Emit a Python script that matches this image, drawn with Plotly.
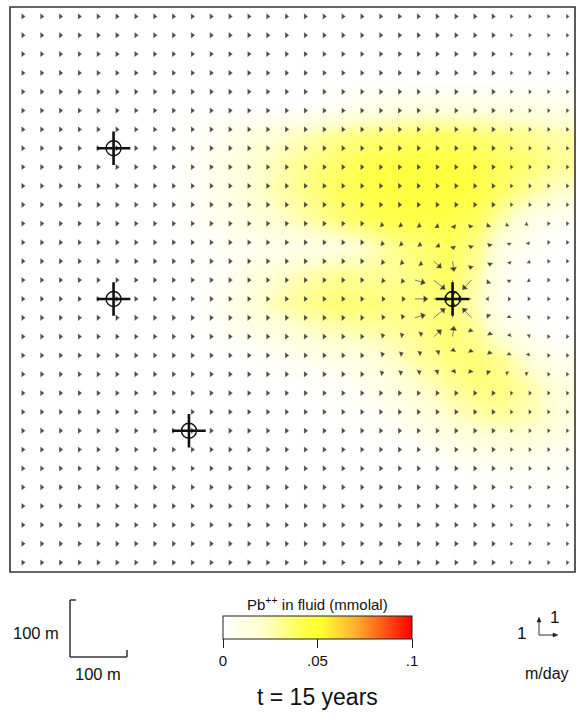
import numpy as np
import plotly.graph_objects as go

W, H = 576, 717
FONT = "Liberation Sans, Arial, sans-serif"

# model domain (m) and grid of velocity nodes
DOMAIN = 1000
NCELL = 30

# background velocity (m/day) per grid column, left -> right
BG_VX = [0.2] * 25 + [0.17, 0.13, 0.11, 0.1, 0.1]

# velocity near the pumping well: rows dy=+4..-4 (top->bottom), cols dx=-4..+4
PUMP_COL, PUMP_ROW = 23, 15
WIN_VX = [
    [0.27, 0.27, 0.25, 0.20, 0.08, -0.06, -0.12, -0.12, -0.08],
    [0.30, 0.30, 0.29, 0.26, 0.04, -0.04, -0.04, 0.00, 0.02],
    [0.32, 0.34, 0.35, 0.34, 0.06, -0.05, -0.02, 0.03, 0.06],
    [0.34, 0.38, 0.46, 0.55, 0.04, -0.42, -0.12, 0.00, 0.05],
    [0.35, 0.42, 0.60, 0.75, 0.00, -0.70, -0.15, 0.00, 0.05],
    [0.34, 0.38, 0.46, 0.55, 0.04, -0.42, -0.12, 0.00, 0.05],
    [0.32, 0.34, 0.35, 0.34, 0.06, -0.05, -0.02, 0.03, 0.06],
    [0.30, 0.30, 0.29, 0.26, 0.04, -0.04, -0.04, 0.00, 0.02],
    [0.27, 0.27, 0.25, 0.20, 0.08, -0.06, -0.12, -0.12, -0.08],
]
WIN_VY = [
    [-0.08, -0.10, -0.13, -0.16, -0.18, -0.16, -0.12, -0.08, -0.04],
    [-0.07, -0.10, -0.14, -0.20, -0.30, -0.25, -0.15, -0.08, -0.05],
    [-0.06, -0.09, -0.16, -0.30, -0.45, -0.35, -0.16, -0.08, -0.05],
    [-0.035, -0.06, -0.13, -0.45, -0.75, -0.45, -0.12, -0.05, -0.03],
    [0, 0, 0, 0, 0, 0, 0, 0, 0],
    [0.035, 0.06, 0.13, 0.45, 0.75, 0.45, 0.12, 0.05, 0.03],
    [0.06, 0.09, 0.16, 0.30, 0.45, 0.35, 0.16, 0.08, 0.05],
    [0.07, 0.10, 0.14, 0.20, 0.30, 0.25, 0.15, 0.08, 0.05],
    [0.08, 0.10, 0.13, 0.16, 0.18, 0.16, 0.12, 0.08, 0.04],
]

# wells (m)
WELL_X = [183.3, 183.3, 316.7, 783.3]
WELL_Y = [750.0, 483.3, 250.0, 483.3]

# Pb++ concentration (mmolal) on a 20x20 grid, rows top -> bottom
CONC = [
    [0] * 20,
    [0] * 20,
    [0] * 20,
    [0, 0, 0, 0, 0, 0, 0, 0, 0, 0, 0, .004, .008, .010, .012, .012, .012, .011, .010, .008],
    [0, 0, 0, 0, 0, 0, .002, .006, .012, .018, .024, .030, .034, .036, .038, .038, .036, .033, .030, .026],
    [0, 0, 0, 0, 0, 0, .004, .010, .018, .025, .032, .038, .042, .044, .045, .045, .043, .040, .035, .030],
    [0, 0, 0, 0, 0, 0, .004, .010, .018, .026, .033, .040, .044, .045, .046, .046, .044, .038, .028, .020],
    [0, 0, 0, 0, 0, 0, .003, .008, .014, .020, .027, .034, .040, .043, .044, .044, .040, .025, .010, .004],
    [0, 0, 0, 0, 0, 0, 0, .003, .006, .008, .010, .014, .020, .030, .036, .040, .032, .012, .003, 0],
    [0, 0, 0, 0, 0, 0, 0, .004, .012, .020, .026, .030, .030, .030, .034, .040, .028, .006, 0, 0],
    [0, 0, 0, 0, 0, 0, 0, .006, .016, .026, .032, .036, .036, .034, .034, .036, .024, .004, 0, 0],
    [0, 0, 0, 0, 0, 0, 0, .003, .008, .014, .020, .024, .026, .028, .032, .036, .030, .014, .004, 0],
    [0, 0, 0, 0, 0, 0, 0, 0, 0, .004, .006, .010, .014, .020, .028, .034, .036, .030, .016, .006],
    [0, 0, 0, 0, 0, 0, 0, 0, 0, 0, 0, .003, .006, .012, .020, .028, .034, .034, .026, .014],
    [0, 0, 0, 0, 0, 0, 0, 0, 0, 0, 0, 0, .002, .006, .012, .020, .026, .028, .024, .014],
    [0, 0, 0, 0, 0, 0, 0, 0, 0, 0, 0, 0, 0, 0, .004, .008, .012, .014, .012, .008],
    [0, 0, 0, 0, 0, 0, 0, 0, 0, 0, 0, 0, 0, 0, 0, 0, .002, .003, .003, .002],
    [0] * 20,
    [0] * 20,
    [0] * 20,
]
CB_TICKS = [0, 0.05, 0.1]
CB_TICKTEXT = ["0", ".05", ".1"]


def paper(x, y):
    return x / W, 1 - y / H


# ---- velocity field on the node grid
cell = DOMAIN / NCELL
vx = np.tile(np.array(BG_VX), (NCELL, 1))
vy = np.zeros((NCELL, NCELL))
r0, c0 = PUMP_ROW - 4, PUMP_COL - 4
vx[r0:r0 + 9, c0:c0 + 9] = WIN_VX
vy[r0:r0 + 9, c0:c0 + 9] = WIN_VY

cols, rows = np.meshgrid(np.arange(NCELL), np.arange(NCELL))
nx = (cols + 0.5) * cell
ny = DOMAIN - (rows + 0.5) * cell
scale = 30.0  # metres of arrow per m/day
tipx = nx + vx * scale
tipy = ny + vy * scale
speed = np.hypot(vx, vy)
keep = ~((rows == PUMP_ROW) & (cols == PUMP_COL))

shaft_x, shaft_y = [], []
for x0, y0, x1, y1, s in zip(nx[keep], ny[keep], tipx[keep], tipy[keep], speed[keep]):
    if s > 0.45:
        shaft_x += [x0, x1, None]
        shaft_y += [y0, y1, None]

ang = -np.degrees(np.arctan2(vy, vx))
hsize = np.where(speed > 0.45, 6.5, np.where(speed > 0.15, 5.5, 4.5))

# ---- concentration grid
ccell = DOMAIN / len(CONC)
cx = [(i + 0.5) * ccell for i in range(len(CONC[0]))]
cy = [(j + 0.5) * ccell for j in range(len(CONC))]
z = CONC[::-1]

fig = go.Figure()
fig.add_trace(go.Heatmap(
    x=cx, y=cy, z=z, zmin=0, zmax=0.1, zsmooth="best",
    colorscale=[[0, "#ffffff"], [0.2, "#ffffd0"], [0.45, "#ffff40"], [0.52, "#ffff30"],
                [0.7, "#ffb030"], [1, "#ff0000"]],
    hoverinfo="skip",
    colorbar=dict(
        orientation="h", x=317.5 / W, xanchor="center", y=1 - 616 / H, yanchor="top",
        len=189, lenmode="pixels", thickness=23, thicknessmode="pixels",
        xpad=0, ypad=0, outlinewidth=1, outlinecolor="#222",
        ticks="outside", ticklen=9, tickwidth=1, tickcolor="#222",
        tickvals=CB_TICKS, ticktext=CB_TICKTEXT,
        tickfont=dict(family=FONT, size=15, color="#111"),
    ),
))

fig.add_trace(go.Scatter(
    x=shaft_x, y=shaft_y, mode="lines",
    line=dict(color="#7a7a7a", width=1), hoverinfo="skip",
))
fig.add_trace(go.Scatter(
    x=tipx[keep], y=tipy[keep], mode="markers", hoverinfo="skip",
    marker=dict(symbol="triangle-right", size=hsize[keep], angle=ang[keep],
                color="#000", line=dict(color="white", width=0.3)),
))

# wells
fig.add_trace(go.Scatter(
    x=WELL_X, y=WELL_Y, mode="markers", hoverinfo="skip",
    marker=dict(symbol="circle-open", size=15, color="#111", line=dict(width=1.4, color="#111")),
))
fig.add_trace(go.Scatter(
    x=WELL_X, y=WELL_Y, mode="markers", hoverinfo="skip",
    marker=dict(symbol="cross-thin-open", size=24, color="#111", line=dict(width=2.6, color="#111")),
))

# frame
x0p, y0p = paper(10, 572)
x1p, y1p = paper(575, 7)
shapes = [dict(type="rect", xref="paper", yref="paper", x0=x0p, y0=y0p, x1=x1p, y1=y1p,
               line=dict(color="#333", width=1.6))]


def seg(xa, ya, xb, yb, w=1.5):
    (pa, qa), (pb, qb) = paper(xa, ya), paper(xb, yb)
    return dict(type="line", xref="paper", yref="paper", x0=pa, y0=qa, x1=pb, y1=qb,
                line=dict(color="#333", width=w))


def head(pts):
    p = [paper(x, y) for x, y in pts]
    path = "M {} {} L {} {} L {} {} Z".format(*[v for q in p for v in q])
    return dict(type="path", xref="paper", yref="paper", path=path,
                fillcolor="#222", line=dict(color="#222", width=0.5))


# 100 m scale bar
shapes += [seg(70, 600, 70, 657), seg(70, 657, 127, 657), seg(70, 600, 76, 600), seg(127, 650, 127, 657)]

# 1 m/day velocity scale
shapes += [seg(539, 635, 539, 621, 1), seg(539, 635, 554, 635, 1),
           head([(539, 617), (537, 622), (541, 622)]),
           head([(558, 635), (553, 633), (553, 637)])]

annotations = []


def label(x, y, text, size=14, anchor="center"):
    px_, py_ = paper(x, y)
    annotations.append(dict(x=px_, y=py_, xref="paper", yref="paper", text=text, showarrow=False,
                            xanchor=anchor, yanchor="middle",
                            font=dict(family=FONT, size=size, color="#111")))


label(61, 633, "100 m", size=16.5, anchor="right")
label(98, 674, "100 m", size=16.5)
label(317.5, 603, "Pb<sup>++</sup> in fluid (mmolal)", size=15)
label(317.5, 697, "t = 15 years", size=23)
label(521, 633, "1", size=17)
label(554, 617, "1", size=17)
label(547, 673, "m/day", size=16)

fig.update_layout(
    width=W, height=H, margin=dict(l=0, r=0, t=0, b=0),
    paper_bgcolor="white", plot_bgcolor="white", showlegend=False,
    xaxis=dict(domain=[10 / W, 575 / W], range=[0, DOMAIN], visible=False, fixedrange=True),
    yaxis=dict(domain=[1 - 572 / H, 1 - 7 / H], range=[0, DOMAIN], visible=False, fixedrange=True),
    shapes=shapes, annotations=annotations,
)

fig.write_html("out.html", config={"displayModeBar": False},
               post_script="document.body.style.margin='0';document.body.style.overflow='hidden';")
